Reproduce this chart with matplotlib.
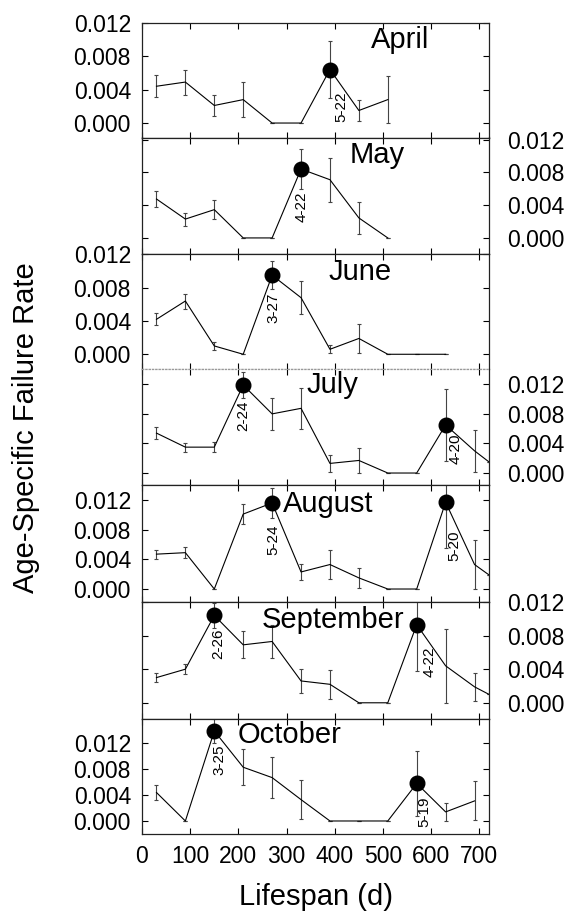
import matplotlib
matplotlib.use("Agg")
import matplotlib.pyplot as plt
import numpy as np

plt.rcParams['font.family'] = ['Liberation Sans', 'DejaVu Sans']

months = ["April", "May", "June", "July", "August", "September", "October"]

# age (days) and failure rates per month
x_apr = [30, 90, 150, 210, 270, 330, 390, 450, 510]
y_apr = [0.0044, 0.0049, 0.0021, 0.0028, 0.0, 0.0, 0.0064, 0.0015, 0.0028]
e_apr = [0.0013, 0.0015, 0.0013, 0.0021, 0, 0, 0.0034, 0.0013, 0.0028]

x_may = [30, 90, 150, 210, 270, 330, 390, 450, 510]
y_may = [0.00475, 0.0023, 0.00345, 0.0, 0.0, 0.0084, 0.0071, 0.00244, 0.0]
e_may = [0.001, 0.0008, 0.0012, 0, 0, 0.0024, 0.0027, 0.002, 0]

x_jun = [30, 90, 150, 210, 270, 330, 390, 450, 510, 570, 630]
y_jun = [0.0042, 0.0064, 0.001, 0.0, 0.0095, 0.0068, 0.0006, 0.0019, 0.0, 0.0, 0.0]
e_jun = [0.0007, 0.0009, 0.0005, 0, 0.0017, 0.002, 0.0005, 0.0017, 0, 0, 0]

x_jul = [30, 90, 150, 210, 270, 330, 390, 450, 510, 570, 630, 690, 720]
y_jul = [0.0054, 0.0035, 0.0035, 0.0119, 0.008, 0.00875, 0.0013, 0.0017, 0.0, 0.0, 0.0065, 0.003, 0.0015]
e_jul = [0.0008, 0.0006, 0.0007, 0.0018, 0.0022, 0.0028, 0.0012, 0.0017, 0, 0, 0.0049, 0.0028, 0]

x_aug = [30, 90, 150, 210, 270, 330, 390, 450, 510, 570, 630, 690, 720]
y_aug = [0.0047, 0.0049, 0.0, 0.0101, 0.0116, 0.0023, 0.0033, 0.0015, 0.0, 0.0, 0.0117, 0.0033, 0.0019]
e_aug = [0.0006, 0.0007, 0, 0.0014, 0.002, 0.0011, 0.0019, 0.0014, 0, 0, 0.0062, 0.0033, 0]

x_sep = [30, 90, 150, 210, 270, 330, 390, 450, 510, 570, 630, 690, 720]
y_sep = [0.003, 0.004, 0.0104, 0.0069, 0.0073, 0.0026, 0.0022, 0.0, 0.0, 0.0093, 0.0044, 0.0019, 0.001]
e_sep = [0.00055, 0.0006, 0.0015, 0.0016, 0.002, 0.0014, 0.0017, 0, 0, 0.0055, 0.0044, 0.0017, 0]

x_oct = [30, 90, 150, 210, 270, 330, 390, 450, 510, 570, 630, 690]
y_oct = [0.0044, 0.0, 0.0139, 0.0083, 0.0067, 0.0033, 0.0, 0.0, 0.0, 0.0058, 0.0014, 0.0031]
e_oct = [0.0011, 0, 0.0019, 0.0028, 0.0032, 0.003, 0, 0, 0, 0.005, 0.0014, 0.003]

# peaks (x, y) with date labels and label centre positions
peaks = [
    [(390, 0.0064, "5-22", 413, 0.0020)],
    [(330, 0.0084, "4-22", 331, 0.0038)],
    [(270, 0.0095, "3-27", 273, 0.0056)],
    [(210, 0.0119, "2-24", 210, 0.0078), (630, 0.0065, "4-20", 651, 0.0033)],
    [(270, 0.0116, "5-24", 272, 0.0067), (630, 0.0117, "5-20", 648, 0.0058)],
    [(150, 0.0104, "2-26", 158, 0.0070), (570, 0.0093, "4-22", 596, 0.0049)],
    [(150, 0.0139, "3-25", 160, 0.0094), (570, 0.0058, "5-19", 586, 0.0015)],
]

xs = [x_apr, x_may, x_jun, x_jul, x_aug, x_sep, x_oct]
ys = [y_apr, y_may, y_jun, y_jul, y_aug, y_sep, y_oct]
es = [e_apr, e_may, e_jun, e_jul, e_aug, e_sep, e_oct]

yticks = [0.000, 0.004, 0.008, 0.012]
ytick_labels = ["0.000", "0.004", "0.008", "0.012"]
xticks = [0, 100, 200, 300, 400, 500, 600, 700]

W, H = 568, 914
fig = plt.figure(figsize=(W / 100, H / 100), dpi=100)

# layout in pixels
left_px, right_px = 142, 489
bounds = [(22.7, 137.5), (137.5, 254), (254, 369), (369, 485), (485, 602), (602, 719), (719, 834)]
ylims = [(-0.00173, 0.01198), (-0.00196, 0.01225), (-0.00177, 0.01205), (-0.00162, 0.01407),
         (-0.00175, 0.01402), (-0.00193, 0.0119), (-0.00201, 0.01575)]
title_pos = [(400, 48), (377, 163), (360, 280), (332, 393), (328, 511.5), (333, 628), (290, 743)]

for i, m in enumerate(months):
    top, bot = bounds[i]
    ax = fig.add_axes([left_px / W, 1 - bot / H, (right_px - left_px) / W, (bot - top) / H])
    ax.errorbar(xs[i], ys[i], yerr=es[i], color='black', lw=0.8, ecolor='#444444',
                elinewidth=0.8, capsize=1.5, capthick=0.8)
    for (px, py, lab, lx, ly) in peaks[i]:
        ax.plot([px], [py], 'o', color='black', ms=10.5, zorder=5)
        ax.text(lx, ly, lab, rotation=90, ha='center', va='center', fontsize=11)
    ax.set_xlim(0, 720)
    ax.set_ylim(*ylims[i])
    ax.set_xticks(xticks)
    ax.set_yticks(yticks)
    right = (i % 2 == 1)
    ax.tick_params(axis='both', direction='in', top=True, right=True, length=4, width=0.8,
                   labelsize=16.5)
    ax.tick_params(axis='y', labelleft=not right, labelright=right)
    if right:
        ax.tick_params(axis='y', pad=13)
    else:
        ax.tick_params(axis='y', pad=8)
    ax.set_yticklabels(ytick_labels)
    if i == len(months) - 1:
        ax.tick_params(axis='x', labelbottom=True, pad=8)
    else:
        ax.tick_params(axis='x', labelbottom=False)
    for s in ax.spines.values():
        s.set_linewidth(0.9)
        s.set_color('#222222')
    if i == 2:
        ax.spines['bottom'].set_linestyle(':')
        ax.spines['bottom'].set_color('#999999')
    if i == 3:
        ax.spines['top'].set_linestyle(':')
        ax.spines['top'].set_color('#999999')
    tx, ty = title_pos[i]
    fig.text(tx / W, 1 - ty / H, m, ha='center', va='baseline', fontsize=21)

fig.text(26 / W, 1 - 428 / H, "Age-Specific Failure Rate", rotation=90, ha='center', va='center',
         fontsize=21)
fig.text(316 / W, 1 - 905 / H, "Lifespan (d)", ha='center', va='baseline', fontsize=21)

fig.savefig("out.png", dpi=100)
